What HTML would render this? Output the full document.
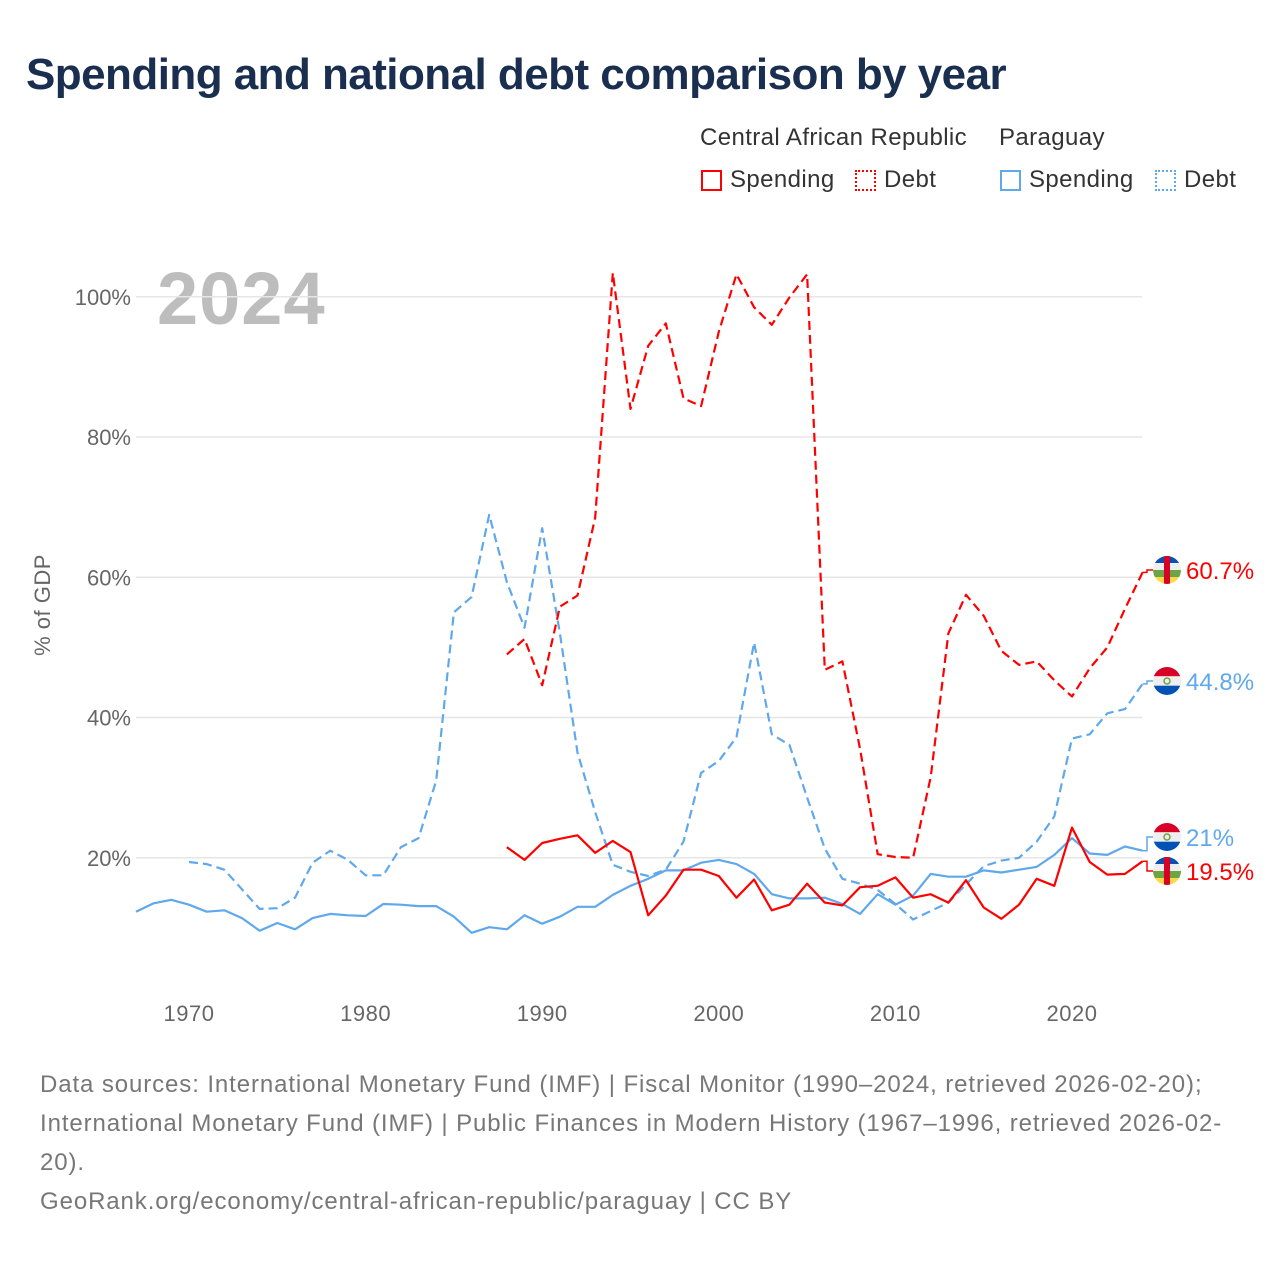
<!DOCTYPE html>
<html><head><meta charset="utf-8">
<style>
body{margin:0;background:#fff;font-family:"Liberation Sans",sans-serif;}
#wrap{position:relative;width:1280px;height:1280px;overflow:hidden;}
h1{position:absolute;left:26px;top:50px;margin:0;font-size:44px;font-weight:bold;color:#1a2e4f;letter-spacing:-0.55px;}
.lg{position:absolute;font-size:24px;color:#333;letter-spacing:0.4px;}
.sw{position:absolute;width:21px;height:21px;box-sizing:border-box;}
.foot{position:absolute;left:40px;font-size:24px;color:#777;line-height:39px;letter-spacing:0.9px;white-space:nowrap;}
</style></head><body>
<div id="wrap">
<h1>Spending and national debt comparison by year</h1>
<div class="lg" style="left:700px;top:124px">Central African Republic</div>
<div class="lg" style="left:999px;top:124px">Paraguay</div>
<div class="sw" style="left:701px;top:170px;border:2px solid #f00"></div>
<div class="lg" style="left:730px;top:166px">Spending</div>
<div class="sw" style="left:855px;top:170px;border:2px dotted #f00"></div>
<div class="lg" style="left:884px;top:166px">Debt</div>
<div class="sw" style="left:1000px;top:170px;border:2px solid #5fa8ec"></div>
<div class="lg" style="left:1029px;top:166px">Spending</div>
<div class="sw" style="left:1155px;top:170px;border:2px dotted #5fa8ec"></div>
<div class="lg" style="left:1184px;top:166px">Debt</div>
<svg id="chart" width="1280" height="1280" style="position:absolute;left:0;top:0"></svg>
<div class="foot" style="top:1065px">Data sources: International Monetary Fund (IMF) | Fiscal Monitor (1990–2024, retrieved 2026-02-20);<br>International Monetary Fund (IMF) | Public Finances in Modern History (1967–1996, retrieved 2026-02-<br>20).</div>
<div class="foot" style="top:1182px">GeoRank.org/economy/central-african-republic/paraguay | CC BY</div>
</div>
<script>
const yTicks=[20,40,60,80,100];
const xTicks=[1970,1980,1990,2000,2010,2020];
const pySpendStart=1967;
const pySpend=[12.3,13.5,14.0,13.3,12.3,12.5,11.4,9.6,10.7,9.8,11.4,12.0,11.8,11.7,13.4,13.3,13.1,13.1,11.6,9.3,10.1,9.8,11.8,10.6,11.6,13.0,13.0,14.7,16.0,17.0,18.2,18.2,19.3,19.7,19.1,17.7,14.8,14.2,14.2,14.3,13.4,12.0,14.8,13.3,14.6,17.7,17.3,17.3,18.2,17.9,18.3,18.7,20.4,22.8,20.6,20.4,21.6,21.0];
const pyDebtStart=1970;
const pyDebt=[19.4,19.1,18.3,15.5,12.7,12.8,14.3,19.3,21.0,19.7,17.5,17.5,21.5,22.8,31,55,57.2,68.9,59.3,52.8,67.0,52,35,26.5,19,18,17.4,18.3,22.3,32.1,33.8,37.2,50.7,37.6,36.1,28.6,21.3,17,16.3,15.4,13.4,11.2,12.4,13.6,16.2,18.8,19.6,20.0,22.3,25.9,37.0,37.6,40.6,41.2,44.8];
const carStart=1988;
const carSpend=[21.5,19.7,22.1,22.7,23.2,20.7,22.4,20.8,11.8,14.6,18.3,18.3,17.4,14.3,16.9,12.5,13.3,16.3,13.6,13.2,15.8,16.0,17.2,14.3,14.8,13.6,16.8,12.9,11.3,13.3,17.0,16.0,24.3,19.4,17.6,17.7,19.5];
const carDebt=[49,51.2,44.6,55.8,57.4,68.5,103.4,84,93,96.2,85.5,84.4,95,103.2,98.5,96,99.9,103.2,46.8,48,35.5,20.5,20.1,20,31.5,52,57.5,54.5,49.5,47.5,48,45.3,43,47,50,55.5,60.7];
const labelNames=["60.7%","44.8%","21%","19.5%"];

const X=yr=>189+(yr-1970)*17.66;
const Y=v=>998-v*7.0125;
const svg=document.getElementById('chart');
const NS='http://www.w3.org/2000/svg';
function mk(t,a){const e=document.createElementNS(NS,t);for(const k in a)e.setAttribute(k,a[k]);svg.appendChild(e);return e;}
const yr=mk('text',{x:157,y:324,'font-size':74,'font-weight':'bold',fill:'#bdbdbd','font-family':'Liberation Sans','letter-spacing':1});
yr.textContent='2024';


yTicks.forEach(v=>{
 const l=mk('line',{x1:136,x2:1142,y1:Y(v),y2:Y(v),stroke:'#e6e6e6','stroke-width':1.5});
 
 
 const t=mk('text',{x:131,y:Y(v)+8,'text-anchor':'end','font-size':22,fill:'#666'});
 t.textContent=v+'%';
 
 
});
xTicks.forEach(v=>{
 const t=mk('text',{x:X(v),y:1021,'text-anchor':'middle','font-size':22,fill:'#666','letter-spacing':0.5});
 t.textContent=v;
 
 
});
const yt=mk('text',{x:0,y:0,transform:'translate(50,605) rotate(-90)','text-anchor':'middle','font-size':22,fill:'#666','letter-spacing':0.5});
yt.textContent='% of GDP';


function line(start,arr,col,dash,name){
 const pts=arr.map((v,i)=>X(start+i).toFixed(1)+','+Y(v).toFixed(1)).join(' ');
 const p=mk('polyline',{points:pts,fill:'none',stroke:col,'stroke-width':2.2,'stroke-dasharray':dash?'9,5':'none','stroke-linejoin':'round'});
 
 
}
line(pySpendStart,pySpend,'#5fa8ec',false,'line-paraguay-spending');
line(pyDebtStart,pyDebt,'#5fa8ec',true,'line-paraguay-debt');
line(carStart,carSpend,'#f00',false,'line-car-spending');
line(carStart,carDebt,'#f00',true,'line-car-debt');
const ends=[[carDebt[carDebt.length-1],570,'#f00','car'],[pyDebt[pyDebt.length-1],681,'#5fa8ec','py'],[pySpend[pySpend.length-1],837,'#5fa8ec','py'],[carSpend[carSpend.length-1],871,'#f00','car']];
ends.forEach((e,i)=>{
 const c=mk('polyline',{points:`${X(2024)},${Y(e[0])} 1147,${Y(e[0])} 1147,${e[1]} 1153,${e[1]}`,fill:'none',stroke:e[2],'stroke-width':1.5});
 
 
 const g=document.createElementNS(NS,'g');svg.appendChild(g);
 
 
 const cx=1167,cy=e[1],r=14;
 const cid='cl'+i;
 g.innerHTML=`<clipPath id="${cid}"><circle cx="${cx}" cy="${cy}" r="${r}"/></clipPath>`+
 (e[3]==='car'?
 `<g clip-path="url(#${cid})"><rect x="${cx-r}" y="${cy-r}" width="28" height="7" fill="#0b4fb0"/><rect x="${cx-r}" y="${cy-7}" width="28" height="7" fill="#eee"/><rect x="${cx-r}" y="${cy}" width="28" height="7" fill="#6da544"/><rect x="${cx-r}" y="${cy+7}" width="28" height="7" fill="#ffda44"/><rect x="${cx-3}" y="${cy-r}" width="6" height="28" fill="#d80027"/></g>`:
 `<g clip-path="url(#${cid})"><rect x="${cx-r}" y="${cy-r}" width="28" height="9.3" fill="#d80027"/><rect x="${cx-r}" y="${cy-4.7}" width="28" height="9.4" fill="#eee"/><rect x="${cx-r}" y="${cy+4.7}" width="28" height="9.3" fill="#0052b4"/><circle cx="${cx}" cy="${cy}" r="3" fill="none" stroke="#6da544" stroke-width="1.5"/></g>`);
 const t=mk('text',{x:1186,y:e[1]+9,'font-size':24,fill:e[2]});
 t.textContent=labelNames[i];
 
 
});
</script>
</body></html>
